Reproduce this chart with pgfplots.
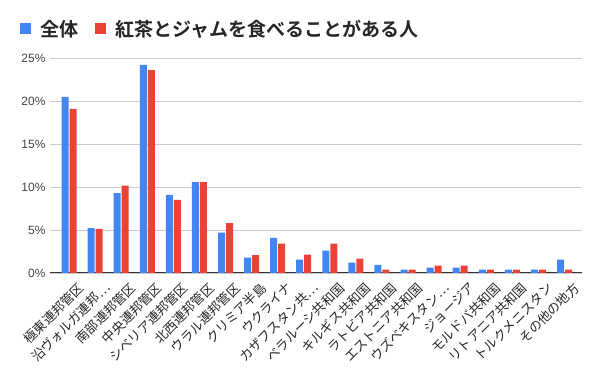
\documentclass[border=0pt]{standalone}
\usepackage{fontspec}
\setmainfont{Noto Sans CJK JP}[BoldFont={Noto Sans CJK JP Bold}]
\newfontfamily\arialfont{Liberation Sans}
\usepackage{pgfplots}
\pgfplotsset{compat=1.18}
\definecolor{gblue}{HTML}{4285F4}
\definecolor{gred}{HTML}{EA4335}
\definecolor{ggrid}{HTML}{CCCCCC}
\definecolor{gtext}{HTML}{444444}
\definecolor{gaxis}{HTML}{333333}
\begin{document}
\begin{tikzpicture}[x=1pt,y=1pt]
\useasboundingbox (0,0) rectangle (600,371);
\begin{axis}[
  at={(50pt,98pt)}, anchor=south west,
  scale only axis, width=532pt, height=215pt,
  ybar, bar width=7pt,
  xmin=-0.73, xmax=19.67, ymin=0, ymax=25,
  axis x line*=bottom, axis y line*=left,
  x axis line style={gaxis, line width=1pt},
  y axis line style={draw=none},
  ytick={0,5,10,15,20,25},
  yticklabels={0\%,5\%,10\%,15\%,20\%,25\%},
  ymajorgrids, grid style={ggrid, line width=0.8pt},
  yticklabel style={font=\arialfont\fontsize{12}{12}\selectfont, text=gtext, xshift=-1pt},
  major tick length=0pt,
  xtick={0,...,19},
  xticklabels={極東連邦管区,沿ヴォルガ連邦…,南部連邦管区,中央連邦管区,シベリア連邦管区,北西連邦管区,ウラル連邦管区,クリミア半島,ウクライナ,カザフスタン共…,ベラルーシ共和国,キルギス共和国,ラトビア共和国,エストニア共和国,ウズベキスタン…,ジョージア,モルドバ共和国,リトアニア共和国,トルクメニスタン,その他の地方},
  xticklabel style={xshift=8pt, yshift=-8pt, rotate=45, anchor=north east, inner sep=0pt, font=\fontsize{13}{13}\selectfont, text=black!85},
  legend columns=-1,
  legend style={at={(-0.056,1.135)}, anchor=west, draw=none, fill=none, inner sep=0pt,
    font=\bfseries\fontsize{19}{20}\selectfont, text=black!85,
    /tikz/every odd column/.append style={column sep=7pt},
    /tikz/every even column/.append style={column sep=15pt}},
  legend image code/.code={\fill[#1] (0pt,-5.5pt) rectangle (11pt,5.5pt);},
]
\addplot[fill=gblue, draw=none, bar shift=-4pt] coordinates {
(0,20.47) (1,5.23) (2,9.3) (3,24.2) (4,9.07) (5,10.58) (6,4.69) (7,1.78) (8,4.07) (9,1.55)
(10,2.6) (11,1.2) (12,0.93) (13,0.39) (14,0.62) (15,0.62) (16,0.39) (17,0.39) (18,0.39) (19,1.55)};
\addplot[fill=gred, draw=none, bar shift=4pt] coordinates {
(0,19.07) (1,5.12) (2,10.16) (3,23.6) (4,8.49) (5,10.58) (6,5.81) (7,2.09) (8,3.41) (9,2.13)
(10,3.41) (11,1.67) (12,0.39) (13,0.39) (14,0.85) (15,0.85) (16,0.39) (17,0.39) (18,0.39) (19,0.39)};
\legend{全体,紅茶とジャムを食べることがある人}
\end{axis}
\end{tikzpicture}
\end{document}
